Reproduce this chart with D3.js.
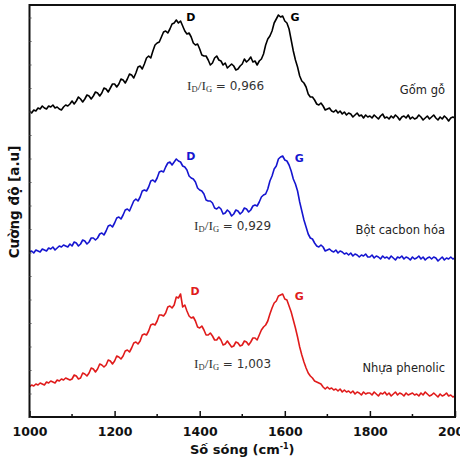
<!DOCTYPE html>
<html>
<head>
<meta charset="utf-8">
<script src="https://cdn.jsdelivr.net/npm/d3@7"></script>
<style>
  body { margin: 0; background: #fff; }
  svg text { font-family: "DejaVu Sans", Verdana, sans-serif; }
</style>
</head>
<body>
<div id="chart"></div>
<script>
// Raman spectra, one value every 5 cm-1 (1000 -> 2000), 20 values per row
const wavenumbers = d3.range(1000, 2001, 5);

const gomGo = [
  306,304,307,306,309,308,311,309,308,311,310,312,309,310,308,307,310,312,311,313,
  316,313,316,320,318,315,318,322,321,318,321,325,324,321,324,329,328,325,329,333,
  333,330,333,338,337,334,338,343,342,339,344,350,351,348,353,359,361,359,366,372,
  374,375,380,385,386,384,388,393,394,397,394,396,391,386,383,384,380,374,372,373,
  368,362,361,361,357,352,354,359,361,357,356,352,354,349,351,353,351,347,348,351,
  353,358,355,357,360,355,356,352,356,358,363,372,378,381,386,394,398,402,400,401,
  396,394,388,377,366,357,350,341,336,334,330,323,320,320,317,313,312,314,311,307,
  308,309,306,305,307,304,306,303,305,302,304,303,300,302,304,301,302,299,302,300,
  301,299,302,300,298,301,303,299,300,298,301,299,302,300,297,300,301,299,302,298,
  300,298,299,302,300,297,299,301,298,300,302,299,297,300,298,301,299,296,299,300,
  299];

const botCacbon = [
  165,166,164,167,166,165,168,167,166,169,168,170,167,169,171,170,172,171,170,173,
  171,175,174,171,173,177,176,173,175,179,179,177,179,183,184,182,186,191,192,190,
  194,199,200,198,202,207,208,206,211,216,218,216,220,226,227,226,230,236,237,235,
  239,245,246,245,250,254,255,252,255,258,256,255,251,250,247,241,239,238,235,229,
  227,226,223,217,216,216,214,209,208,210,208,203,204,207,205,201,203,207,206,203,
  205,209,208,205,207,211,212,211,215,220,222,223,228,236,241,248,251,258,260,261,
  257,256,252,246,238,233,226,215,206,197,190,183,179,178,174,171,170,172,170,166,
  167,168,166,165,167,164,166,165,163,164,162,164,161,163,162,160,162,161,163,160,
  160,162,159,161,160,158,161,159,160,158,161,159,157,160,159,161,158,160,159,157,
  160,158,159,161,158,160,157,159,160,158,160,159,156,158,160,157,159,158,160,158,
  159];

const nhuaPhenolic = [
  30,32,31,33,32,34,33,32,35,34,36,35,34,37,36,38,37,39,38,37,
  38,42,41,38,39,44,43,41,44,49,48,45,48,53,52,50,52,57,56,53,
  56,61,60,58,61,66,67,65,69,74,75,73,76,82,83,82,86,92,93,92,
  96,102,102,101,104,110,111,109,112,120,119,123,110,112,106,101,99,100,96,90,
  89,91,87,82,82,84,81,77,77,80,77,72,73,76,73,70,71,75,74,71,
  72,76,75,72,75,79,79,77,82,87,90,92,96,103,109,114,116,121,122,123,
  118,117,111,105,97,89,80,70,62,55,49,44,41,39,36,35,34,33,30,28,
  30,28,29,27,28,26,28,25,27,25,26,24,26,23,25,24,22,25,23,24,
  24,22,25,23,21,24,23,25,22,24,21,23,25,22,24,23,21,24,22,23,
  24,22,23,21,24,22,25,23,21,22,24,22,20,23,21,22,24,21,22,20,
  21];

const seriesNames = ["Gốm gỗ", "Bột cacbon hóa", "Nhựa phenolic"];
const ratios = ["0,966", "0,929", "1,003"];
const xTicks = [1000, 1200, 1400, 1600, 1800, 2000];

const W = 460, H = 459;
const plotL = 29.5, plotR = 455, plotT = 5, plotB = 417;

const series = [
  {name: seriesNames[0], values: gomGo, color: "#000000", ratio: ratios[0], ratioX: 187},
  {name: seriesNames[1], values: botCacbon, color: "#1515d0", ratio: ratios[1], ratioX: 194},
  {name: seriesNames[2], values: nhuaPhenolic, color: "#e01b1b", ratio: ratios[2], ratioX: 194}
];

const svg = d3.select("#chart").append("svg")
  .attr("width", W)
  .attr("height", H);

const x = d3.scaleLinear().domain([1000, 2000]).range([plotL, plotR]);
const y = d3.scaleLinear().domain([0, 412]).range([plotB, plotT]);

// spectra
const line = d3.line()
  .x((d, i) => x(wavenumbers[i]))
  .y(d => y(d));

series.forEach(s => {
  svg.append("path").datum(s.values)
    .attr("fill", "none")
    .attr("stroke", s.color)
    .attr("stroke-width", 1.6)
    .attr("stroke-linejoin", "round")
    .attr("d", line);
});

// frame
svg.append("rect")
  .attr("x", plotL).attr("y", plotT)
  .attr("width", plotR - plotL).attr("height", plotB - plotT)
  .attr("fill", "none").attr("stroke", "#111").attr("stroke-width", 2);

// bottom axis, ticks pointing inward
const xAxis = svg.append("g")
  .attr("transform", "translate(0," + plotB + ")")
  .call(d3.axisBottom(x).tickValues(xTicks).tickSize(-6).tickPadding(10).tickFormat(d3.format("d")));
xAxis.select(".domain").remove();
xAxis.selectAll("line").attr("stroke", "#111").attr("stroke-width", 1.5);
xAxis.selectAll("text")
  .attr("fill", "#111")
  .style("font-size", "12.5px")
  .style("font-weight", "bold");

// minor ticks
svg.append("g")
  .selectAll("line").data(d3.range(1100, 2000, 200)).enter().append("line")
  .attr("x1", d => x(d)).attr("x2", d => x(d))
  .attr("y1", plotB).attr("y2", plotB - 3)
  .attr("stroke", "#111").attr("stroke-width", 1.5);

// faint left ticks (no labels)
const yAxis = svg.append("g")
  .attr("transform", "translate(" + plotL + ",0)")
  .call(d3.axisLeft(y).tickValues(d3.range(0, 412, 23.5)).tickSize(-2).tickFormat(""));
yAxis.select(".domain").remove();
yAxis.selectAll("line").attr("stroke", "#555").attr("stroke-width", 1);

// axis titles
const xTitle = svg.append("text")
  .attr("x", (plotL + plotR) / 2)
  .attr("y", 454)
  .attr("text-anchor", "middle")
  .style("font-size", "13px")
  .style("font-weight", "bold")
  .attr("fill", "#111");
xTitle.append("tspan").text("Số sóng (cm");
xTitle.append("tspan").attr("dy", -5).style("font-size", "8px").text("-1");
xTitle.append("tspan").attr("dy", 5).text(")");

svg.append("text")
  .attr("transform", "translate(19,202) rotate(-90)")
  .attr("text-anchor", "middle")
  .style("font-size", "13.5px")
  .style("font-weight", "bold")
  .attr("fill", "#111")
  .text("Cường độ [a.u]");

// peak labels D and G, placed next to each band maximum
series.forEach(s => {
  const dIdx = d3.maxIndex(s.values.slice(0, 90));
  const gIdx = 100 + d3.maxIndex(s.values.slice(100, 140));
  [[dIdx, "D", 10, 1], [gIdx, "G", 12, 6]].forEach(([i, lab, dx, dy]) => {
    svg.append("text")
      .attr("x", x(wavenumbers[i]) + dx)
      .attr("y", y(s.values[i]) + dy)
      .attr("fill", s.color)
      .style("font-size", "11px")
      .style("font-weight", "bold")
      .text(lab);
  });
});

// ID/IG ratios, under each D-G valley
series.forEach(s => {
  const base = s.values[wavenumbers.length - 1];
  const t = svg.append("text")
    .attr("x", s.ratioX)
    .attr("y", y(base) - 28)
    .attr("fill", "#333")
    .style("font-size", "12px");
  const serif = "'Liberation Serif', serif";
  t.append("tspan").style("font-family", serif).style("font-size", "13.5px").text("I");
  t.append("tspan").attr("dy", 2).style("font-family", serif).style("font-size", "8.5px").text("D");
  t.append("tspan").attr("dy", -2).style("font-family", serif).style("font-size", "13.5px").text("/I");
  t.append("tspan").attr("dy", 2).style("font-family", serif).style("font-size", "8.5px").text("G");
  t.append("tspan").attr("dy", -2).text(" = " + s.ratio);
});

// series names at right
series.forEach(s => {
  const base = s.values[wavenumbers.length - 1];
  svg.append("text")
    .attr("x", 445)
    .attr("y", y(base) - 24)
    .attr("text-anchor", "end")
    .attr("fill", "#222")
    .style("font-size", "11.5px")
    .text(s.name);
});
</script>
</body>
</html>
